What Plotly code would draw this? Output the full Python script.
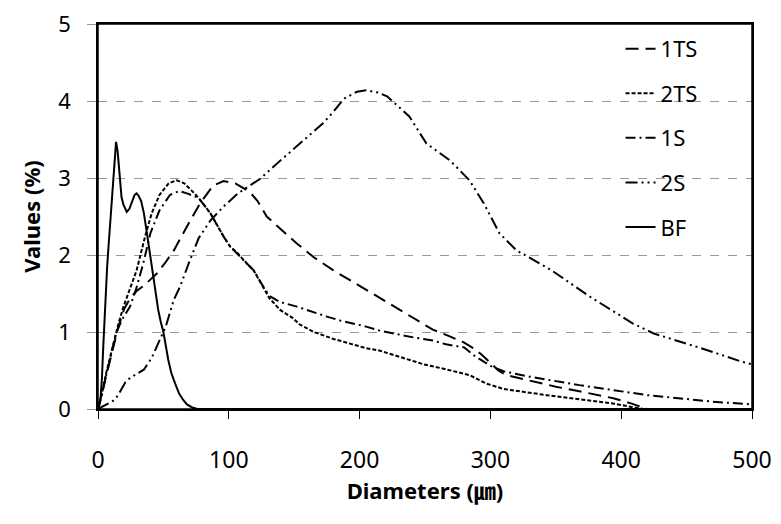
import plotly.graph_objects as go

# ---- data ----
x_1ts = [0, 3, 6, 10, 15, 20, 25, 30, 35, 40, 45, 51, 58, 68, 78, 88, 96, 105, 116, 122, 129, 140, 152, 165, 180, 200, 218, 235, 244, 256, 268, 279, 287, 293, 300, 306, 312, 330, 350, 368, 394, 408, 414, 420, 500]
y_1ts = [0, 0.2, 0.42, 0.7, 1.03, 1.3, 1.45, 1.54, 1.6, 1.68, 1.76, 1.89, 2.06, 2.37, 2.67, 2.9, 2.96, 2.93, 2.82, 2.7, 2.5, 2.33, 2.15, 1.97, 1.8, 1.6, 1.42, 1.25, 1.16, 1.03, 0.95, 0.87, 0.79, 0.71, 0.6, 0.5, 0.44, 0.37, 0.29, 0.23, 0.14, 0.07, 0.03, 0, 0]

x_2ts = [0, 3, 6, 10, 13, 16, 19.5, 24, 29.5, 36, 41, 47, 54, 60, 66, 72, 77, 86, 96, 101, 107, 111, 119, 126, 131, 139, 149, 154, 165, 180, 205, 215, 230, 249, 265, 284, 297, 310, 343, 370, 394, 410, 417, 500]
y_2ts = [0, 0.2, 0.45, 0.72, 0.95, 1.13, 1.33, 1.55, 1.8, 2.24, 2.54, 2.78, 2.93, 2.97, 2.93, 2.83, 2.74, 2.54, 2.24, 2.11, 2.02, 1.94, 1.8, 1.59, 1.44, 1.29, 1.18, 1.1, 1.0, 0.91, 0.79, 0.76, 0.68, 0.58, 0.52, 0.44, 0.33, 0.26, 0.18, 0.12, 0.07, 0.02, 0, 0]

x_1s = [0, 3, 6, 10, 14, 19, 24.5, 29, 34.6, 40, 47, 55, 62, 68, 77, 86, 96, 101, 111, 119, 126, 131, 139, 152, 175, 185, 205, 215, 241, 256, 266, 280, 287, 300, 310, 330, 368, 400, 420, 470, 493, 500]
y_1s = [0, 0.18, 0.42, 0.72, 1.0, 1.18, 1.33, 1.55, 1.89, 2.28, 2.58, 2.78, 2.83, 2.8, 2.74, 2.54, 2.24, 2.11, 1.94, 1.8, 1.6, 1.47, 1.39, 1.33, 1.2, 1.15, 1.07, 1.02, 0.93, 0.89, 0.84, 0.8, 0.7, 0.56, 0.49, 0.42, 0.31, 0.23, 0.18, 0.095, 0.065, 0.06]

x_2s = [0, 5, 13, 16, 21, 25, 31, 35, 41, 46, 52, 58, 63, 70, 77, 86, 96, 107, 116, 124, 137, 152, 172, 180, 188, 198, 205, 214, 221, 238, 251, 269, 284, 295, 307, 320, 346, 376, 409, 425, 461, 493, 500]
y_2s = [0, 0.05, 0.12, 0.2, 0.35, 0.41, 0.47, 0.51, 0.66, 0.85, 1.08, 1.42, 1.6, 1.92, 2.22, 2.45, 2.63, 2.8, 2.9, 2.99, 3.19, 3.41, 3.71, 3.86, 4.03, 4.12, 4.14, 4.11, 4.06, 3.8, 3.45, 3.23, 2.97, 2.67, 2.28, 2.06, 1.81, 1.46, 1.11, 0.98, 0.79, 0.61, 0.58]

x_bf = [0, 1, 2, 3, 4, 5, 6, 7, 8, 9, 10, 11, 12, 13, 13.8, 15, 16.5, 18, 19.5, 22, 24, 26, 28, 29.5, 31, 33, 35, 37, 39, 41, 43.6, 46, 48, 50, 53.7, 56, 59, 62, 65, 68, 72, 76, 500]
y_bf = [0, 0.05, 0.15, 0.4, 0.8, 1.2, 1.55, 1.85, 2.1, 2.35, 2.6, 2.85, 3.1, 3.38, 3.47, 3.35, 3.0, 2.75, 2.65, 2.56, 2.6, 2.7, 2.78, 2.8, 2.77, 2.7, 2.55, 2.33, 2.1, 1.85, 1.55, 1.29, 1.13, 1.0, 0.64, 0.47, 0.33, 0.2, 0.12, 0.06, 0.02, 0, 0]

x_ticks = [0, 100, 200, 300, 400, 500]
y_ticks = [0, 1, 2, 3, 4, 5]

series = [
    ("1TS", x_1ts, y_1ts, "13px,7px"),
    ("2TS", x_2ts, y_2ts, "4px,2px"),
    ("1S", x_1s, y_1s, "10px,4px,2px,4px"),
    ("2S", x_2s, y_2s, "12px,4px,2px,4px,2px,4px"),
    ("BF", x_bf, y_bf, "solid"),
]

FONT = "Noto Sans, Noto Sans CJK KR, sans-serif"

fig = go.Figure()
for i, (name, xs, ys, dash) in enumerate(series):
    fig.add_trace(go.Scatter(
        x=xs, y=ys, mode="lines", name=name, legendgroup=name,
        line=dict(color="black", width=2, dash=dash),
    ))

# plot-area frame
fig.add_shape(type="rect", xref="paper", yref="paper", x0=0, x1=1, y0=0, y1=1,
              line=dict(color="black", width=1.5), layer="above")

fig.update_layout(
    width=781, height=524,
    margin=dict(l=90, r=37, t=16, b=123, autoexpand=False),
    paper_bgcolor="white", plot_bgcolor="white",
    font=dict(family=FONT, color="black", size=22),
    showlegend=True,
    legend=dict(
        x=0.799, y=0.99, xanchor="left", yanchor="top",
        bgcolor="rgba(0,0,0,0)", borderwidth=0,
        font=dict(size=22, family=FONT),
        traceorder="grouped", tracegroupgap=13,
    ),
    xaxis=dict(
        range=[0, 500], tickvals=x_ticks, ticks="outside", ticklen=8,
        tickcolor="black", tickwidth=1, showline=True, linecolor="black",
        linewidth=1.5, mirror=True, showgrid=False, zeroline=False,
        tickfont=dict(size=23, family=FONT), ticklabelstandoff=22,
        ticklabeloverflow="allow", automargin=False,
        title=dict(text="<b>Diameters (㎛)</b>", font=dict(size=22, family=FONT), standoff=9),
    ),
    yaxis=dict(
        range=[0, 5], tickvals=y_ticks, ticks="outside", ticklen=9,
        tickcolor="#999999", tickwidth=1, showline=True, linecolor="black",
        linewidth=1.5, mirror=True, showgrid=True, gridcolor="#999999",
        griddash="dash", gridwidth=1, zeroline=False,
        tickfont=dict(size=22, family=FONT), ticklabelstandoff=12,
        ticklabeloverflow="allow", automargin=False,
        title=dict(text="<b>Values (%)</b>", font=dict(size=22, family=FONT), standoff=12),
    ),
)

fig.write_html("out.html")
